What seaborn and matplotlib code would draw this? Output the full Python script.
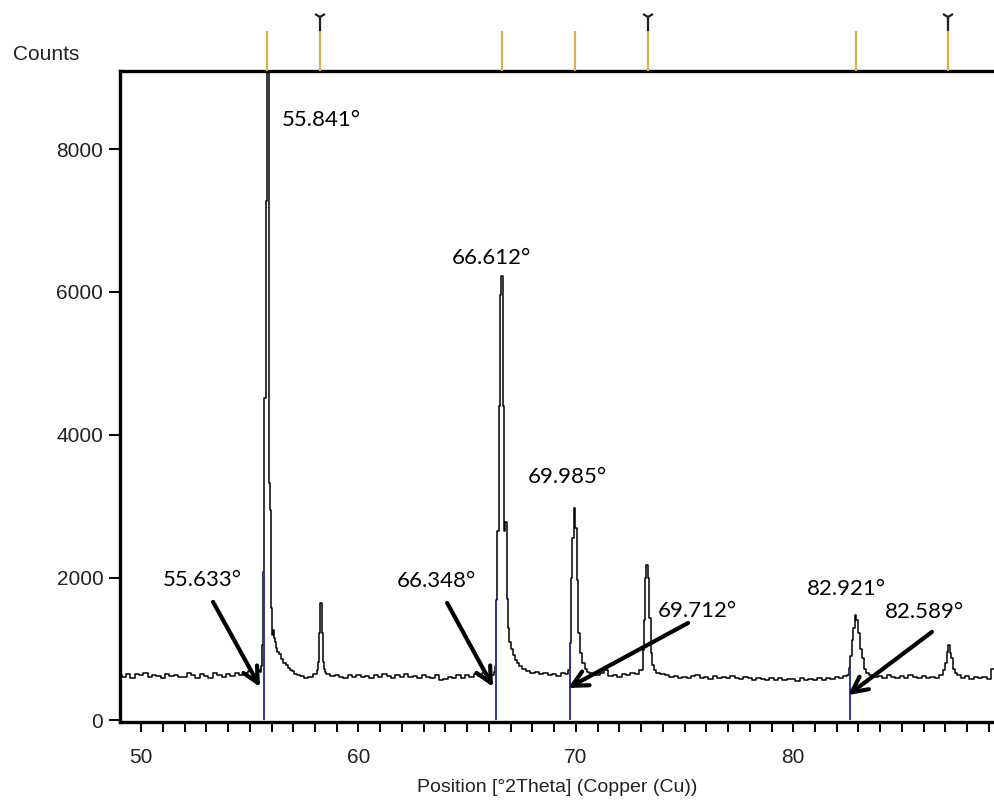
import numpy as np
import pandas as pd
import matplotlib
matplotlib.use("Agg")
import matplotlib.pyplot as plt
import seaborn as sns

# --- data ---
# background counts on a 0.2 deg grid starting at 49.0 deg 2theta
BG_START = 49.0
BG_STEP = 0.2
bg_counts = [
    640, 610, 655, 600, 645, 630, 665, 610, 640, 620,
    600, 650, 625, 640, 605, 615, 660, 630, 600, 645,
    620, 590, 660, 640, 610, 650, 625, 670, 640, 660,
    690, 650, 700, 720, 760, 800, 780, 740, 720, 700,
    680, 660, 620, 600, 615, 600, 630, 700, 680, 620,
    640, 610, 600, 635, 615, 640, 605, 625, 600, 630,
    610, 645, 620, 600, 630, 615, 650, 610, 625, 600,
    640, 605, 590, 630, 560, 575, 610, 590, 630, 600,
    640, 605, 650, 620, 660, 640, 700, 900, 1000, 900,
    800, 760, 700, 720, 690, 670, 680, 650, 660, 640,
    645, 620, 660, 630, 680, 700, 900, 800, 700, 650,
    630, 660, 700, 625, 640, 610, 655, 630, 670, 650,
    700, 900, 900, 700, 660, 650, 630, 610, 625, 600,
    615, 590, 620, 640, 600, 610, 585, 625, 600, 615,
    590, 620, 600, 585, 610, 595, 570, 600, 580, 560,
    590, 570, 600, 560, 585, 575, 550, 590, 565, 580,
    560, 590, 570, 600, 575, 610, 590, 620, 700, 900,
    1000, 800, 680, 640, 610, 625, 600, 640, 615, 590,
    620, 600, 635, 610, 590, 625, 600, 615, 590, 630,
    700, 900, 700, 640, 600, 620, 585, 610, 590, 605,
    585, 720, 640,
]

# peak profiles (finer steps)
peak_558_x = [55.45, 55.50, 55.55, 55.60, 55.65, 55.70, 55.75, 55.80, 55.85,
              55.90, 55.95, 56.00, 56.05, 56.10, 56.15, 56.20, 56.25, 56.30,
              56.40, 56.50, 56.60, 56.70, 56.80, 56.90, 57.00, 57.10, 57.20]
peak_558_y = [700, 680, 760, 1050, 2080, 4510, 7270, 9700, 9900,
              3330, 2950, 1570, 1200, 1260, 1150, 1100, 1010, 960,
              930, 860, 810, 770, 730, 700, 690, 650, 640]

peak_583_x = [58.05, 58.10, 58.15, 58.20, 58.25, 58.30, 58.35, 58.40, 58.45, 58.50, 58.55]
peak_583_y = [650, 700, 820, 1220, 1640, 1650, 1220, 820, 720, 680, 650]

peak_666_x = [66.20, 66.25, 66.30, 66.35, 66.42, 66.48, 66.54, 66.60, 66.66,
              66.72, 66.78, 66.84, 66.90, 66.96, 67.05, 67.15, 67.25, 67.35, 67.45]
peak_666_y = [640, 680, 760, 1680, 2650, 4400, 5950, 6220, 4400,
              2650, 2780, 1700, 1300, 1100, 1000, 920, 850, 800, 760]

peak_700_x = [69.62, 69.68, 69.74, 69.80, 69.87, 69.94, 70.01, 70.08, 70.16,
              70.25, 70.35, 70.45, 70.55, 70.65]
peak_700_y = [650, 700, 1080, 1990, 2560, 2980, 2700, 1960, 1230,
              950, 800, 720, 680, 660]

peak_733_x = [73.05, 73.10, 73.15, 73.21, 73.27, 73.33, 73.40, 73.47, 73.55, 73.65, 73.75]
peak_733_y = [700, 980, 1400, 1990, 2170, 2000, 1430, 940, 780, 700, 660]

peak_829_x = [82.50, 82.59, 82.66, 82.73, 82.80, 82.87, 82.94, 83.02, 83.10, 83.20, 83.30, 83.40]
peak_829_y = [640, 740, 900, 1120, 1300, 1470, 1400, 1220, 1000, 870, 720, 660]

peak_872_x = [86.85, 86.95, 87.03, 87.10, 87.17, 87.24, 87.31, 87.38, 87.46]
peak_872_y = [640, 700, 810, 960, 1050, 950, 870, 720, 660]

# fitted peak positions (blue sticks) and the counts they reach
fit_pos = [55.633, 66.348, 69.712, 82.589]
fit_counts = [2080, 1680, 1080, 740]

# reference pattern lines drawn above the frame
ref_pos = [55.80, 58.23, 66.61, 69.97, 73.32, 82.89, 87.12]
ref_marked = [False, True, False, False, True, False, True]

# labels on top of peaks
peak_labels = ["55.841°", "66.612°", "69.985°", "82.921°"]
peak_label_x = [56.45, 64.31, 67.80, 80.63]
peak_label_y = [8400, 6470, 3405, 1840]

# labels with arrows
arrow_labels = ["55.633°", "66.348°", "69.712°", "82.589°"]
arrow_label_x = [51.01, 61.78, 73.78, 84.22]
arrow_label_y = [1965, 1950, 1530, 1520]
arrow_tail = [(53.31, 1660), (64.08, 1645), (75.16, 1365), (86.38, 1240)]
arrow_tip = [(55.47, 470), (66.19, 470), (69.64, 455), (82.52, 355)]

# --- assemble the scan ---
bg = pd.DataFrame({"two_theta": np.round(BG_START + BG_STEP * np.arange(len(bg_counts)), 2),
                   "counts": bg_counts})
peaks = [(peak_558_x, peak_558_y), (peak_583_x, peak_583_y), (peak_666_x, peak_666_y),
         (peak_700_x, peak_700_y), (peak_733_x, peak_733_y), (peak_829_x, peak_829_y),
         (peak_872_x, peak_872_y)]
keep = np.ones(len(bg), dtype=bool)
parts = []
for px, py in peaks:
    keep &= ~((bg["two_theta"] >= min(px) - 0.08) & (bg["two_theta"] <= max(px) + 0.08)).to_numpy()
    parts.append(pd.DataFrame({"two_theta": px, "counts": py}))
scan = pd.concat([bg[keep]] + parts).sort_values("two_theta").reset_index(drop=True)

# --- plot ---
sns.set_theme(style="ticks")
plt.rcParams["font.family"] = ["Liberation Sans", "DejaVu Sans"]

fig = plt.figure(figsize=(9.95, 8.07), dpi=100)
ax = fig.add_axes([120 / 995, 85 / 807, 875 / 995, 651 / 807])

sns.lineplot(data=scan, x="two_theta", y="counts", color="black", lw=1.1,
             drawstyle="steps-mid", estimator=None, sort=True, ax=ax)
ax.vlines(fit_pos, 0, fit_counts, color="#3434a8", lw=1.4, zorder=3)

ax.set_xlim(49.03, 89.28)
ax.set_ylim(-21, 9092)

ax.set_xticks([50, 60, 70, 80])
ax.set_xticks(np.arange(50, 90), minor=True)
ax.set_yticks([0, 2000, 4000, 6000, 8000])
ax.tick_params(axis="both", which="both", direction="out", color="black",
               labelsize=15, labelcolor="#222222")
ax.tick_params(axis="x", which="both", length=7, width=1.4, pad=12)
ax.tick_params(axis="y", length=8, width=1.4, pad=4)

for side in ["left", "bottom", "top"]:
    ax.spines[side].set_linewidth(2.4)
    ax.spines[side].set_color("black")
ax.spines["right"].set_visible(False)

ax.set_xlabel("Position [°2Theta] (Copper (Cu))", fontsize=14, color="#222222", labelpad=8)
ax.set_ylabel("")
fig.text(13 / 995, 1 - 55 / 807, "Counts", fontsize=15, color="#222222", ha="left", va="center")

# reference sticks above the frame
top = ax.get_ylim()[1]
for pos, marked in zip(ref_pos, ref_marked):
    ax.vlines(pos, top, 9656, color="#dcae52", lw=1.6, clip_on=False, zorder=4)
    if marked:
        ax.vlines(pos, 9656, 9790, color="#222222", lw=1.6, clip_on=False, zorder=4)
        ax.plot([pos], [9850], marker="1", ms=9, mew=1.6, color="#222222", clip_on=False, zorder=4)

lab_font = dict(family=["Lato", "DejaVu Sans"], fontsize=16, color="black")
for txt, x, y in zip(peak_labels, peak_label_x, peak_label_y):
    ax.text(x, y, txt, ha="left", va="center", **lab_font)
for txt, x, y, tail, tip in zip(arrow_labels, arrow_label_x, arrow_label_y, arrow_tail, arrow_tip):
    ax.text(x, y, txt, ha="left", va="center", **lab_font)
    ax.annotate("", xy=tip, xytext=tail,
                arrowprops=dict(arrowstyle="->", lw=3, color="black", mutation_scale=28,
                                shrinkA=0, shrinkB=0))

fig.savefig("out.png", dpi=100)
